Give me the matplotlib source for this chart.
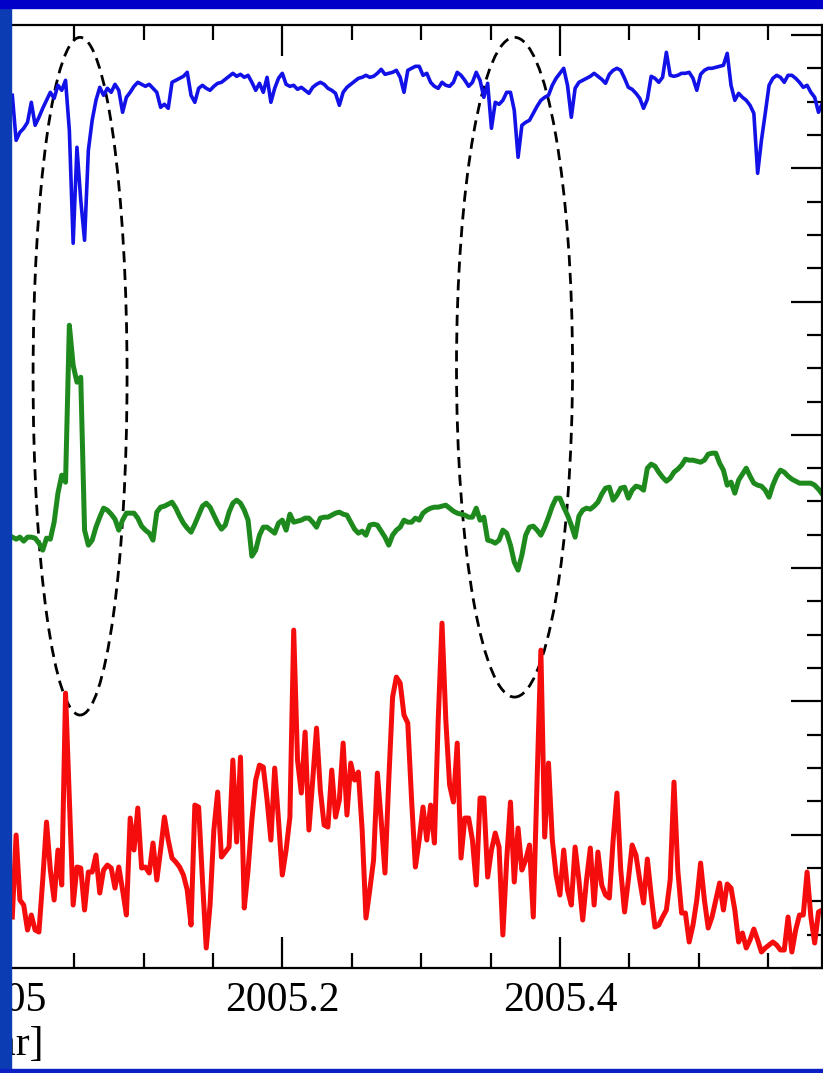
import numpy as np
import matplotlib
matplotlib.use("Agg")
import matplotlib.pyplot as plt
from matplotlib.patches import Ellipse, Rectangle
from matplotlib.ticker import MultipleLocator, FuncFormatter

plt.rcParams['font.family'] = ['Liberation Serif', 'DejaVu Serif']

# daily samples, day 2 .. day 215 of 2005
days = np.arange(2, 216)

blue = [261.9, 248.4, 250.8, 252.0, 253.8, 259.8, 252.9, 255.3, 258.0, 260.4,
        262.8, 261.0, 264.9, 263.4, 266.4, 251.4, 217.5, 246.3, 230.4, 218.4,
        245.4, 254.4, 260.4, 264.3, 261.9, 264.0, 262.8, 265.2, 263.4, 256.8,
        261.3, 262.8, 264.6, 265.8, 265.2, 264.6, 265.2, 264.0, 262.8, 258.3,
        259.2, 258.0, 265.8, 266.4, 267.0, 267.6, 268.8, 261.9, 259.8, 264.0,
        264.9, 264.0, 263.4, 264.6, 265.5, 265.8, 266.7, 267.6, 268.5, 267.6,
        268.2, 267.3, 267.9, 265.8, 263.4, 265.5, 262.8, 267.3, 259.8, 264.0,
        267.0, 268.5, 265.2, 264.6, 264.9, 263.7, 264.3, 263.4, 262.5, 264.3,
        265.2, 265.8, 265.2, 264.0, 263.4, 262.5, 258.9, 262.8, 264.3, 265.2,
        266.1, 267.0, 267.3, 267.9, 267.3, 267.6, 268.5, 269.7, 268.2, 268.5,
        268.8, 269.4, 267.3, 262.8, 269.4, 270.0, 270.6, 270.6, 267.9, 268.5,
        265.8, 264.6, 264.0, 265.8, 264.9, 264.6, 265.8, 268.8, 267.9, 266.4,
        264.6, 265.8, 268.8, 266.4, 261.3, 265.5, 252.0, 259.8, 259.2, 260.4,
        262.8, 262.8, 257.4, 243.3, 252.9, 253.8, 254.4, 256.5, 258.6, 260.4,
        261.3, 261.9, 264.9, 267.0, 268.5, 270.0, 264.9, 255.3, 264.0, 265.8,
        266.4, 267.0, 267.6, 268.5, 267.6, 266.7, 265.5, 268.2, 269.4, 270.0,
        269.4, 267.0, 264.3, 263.7, 262.5, 261.0, 258.0, 260.7, 267.6, 267.0,
        265.8, 267.3, 274.8, 267.9, 267.6, 267.9, 268.5, 268.5, 268.8, 267.0,
        263.4, 268.2, 269.4, 270.0, 270.0, 270.3, 270.6, 270.9, 274.5, 264.9,
        260.4, 262.5, 261.3, 260.4, 258.9, 256.5, 238.5, 248.4, 256.5, 264.9,
        267.0, 267.9, 267.3, 265.8, 267.9, 267.9, 267.0, 265.8, 264.3, 264.9,
        262.8, 261.3, 256.8, 259.5]

green = [129.3, 128.7, 129.3, 128.1, 129.3, 129.3, 129.0, 127.5, 125.4, 129.0,
         128.7, 133.8, 142.5, 147.9, 145.8, 192.9, 180.9, 175.8, 177.3, 131.4,
         126.9, 128.4, 132.3, 135.3, 138.0, 137.4, 136.2, 134.7, 131.4, 134.4,
         136.5, 136.5, 136.5, 135.0, 132.6, 131.4, 130.5, 128.4, 136.8, 138.3,
         138.6, 139.2, 139.8, 138.0, 135.6, 133.5, 132.0, 130.8, 133.2, 135.9,
         138.6, 139.5, 138.3, 135.9, 133.5, 131.7, 132.9, 136.8, 139.5, 140.4,
         139.5, 137.4, 134.4, 123.6, 125.4, 129.9, 132.3, 132.3, 131.4, 130.5,
         133.5, 134.4, 131.4, 136.2, 133.8, 134.1, 134.4, 135.0, 135.0, 133.8,
         132.3, 135.0, 135.3, 135.3, 135.9, 136.5, 136.8, 136.2, 135.9, 133.8,
         131.7, 130.5, 131.1, 129.9, 132.9, 133.2, 132.9, 131.1, 129.3, 126.9,
         129.9, 131.4, 132.3, 134.4, 133.8, 133.8, 135.0, 134.4, 136.5, 137.4,
         138.0, 138.3, 138.3, 138.6, 138.9, 138.0, 137.1, 136.5, 136.2, 135.9,
         135.3, 135.3, 138.0, 134.4, 135.3, 128.4, 128.1, 127.5, 128.4, 131.4,
         130.5, 126.9, 121.8, 119.4, 123.9, 129.9, 132.3, 132.6, 131.4, 129.9,
         132.3, 135.3, 138.6, 141.0, 141.0, 138.3, 135.9, 132.9, 129.3, 135.6,
         137.4, 138.0, 137.7, 138.6, 139.8, 142.2, 144.0, 144.3, 140.4, 141.9,
         144.0, 144.3, 141.0, 143.4, 144.6, 144.3, 143.4, 150.0, 151.2, 150.6,
         148.8, 147.3, 146.1, 147.0, 148.8, 149.7, 150.9, 152.7, 152.4, 152.4,
         152.1, 151.8, 152.4, 154.2, 154.5, 154.5, 151.5, 149.4, 144.9, 145.8,
         142.5, 146.4, 148.2, 150.0, 147.6, 145.5, 144.9, 144.6, 143.4, 141.3,
         144.9, 147.6, 149.4, 148.8, 147.6, 146.7, 146.1, 145.5, 145.5, 145.5,
         145.5, 144.9, 143.7, 142.2]

red = [15.3, 39.9, 20.4, 18.9, 11.4, 15.9, 11.4, 10.8, 26.4, 43.8,
       29.4, 20.4, 35.4, 24.9, 82.5, 50.4, 18.9, 30.3, 30.0, 17.4,
       28.8, 28.8, 33.9, 22.5, 29.4, 30.9, 30.0, 24.0, 30.3, 23.4,
       15.9, 45.0, 35.4, 48.0, 30.0, 30.3, 28.5, 37.5, 26.4, 35.4,
       45.3, 38.4, 33.0, 31.8, 30.3, 27.9, 23.4, 12.9, 48.9, 48.3,
       26.4, 6.0, 18.9, 41.4, 52.8, 33.3, 34.8, 36.3, 62.4, 37.8,
       63.3, 18.0, 29.4, 44.4, 56.4, 60.9, 60.3, 50.4, 38.4, 60.0,
       44.4, 27.9, 35.4, 45.3, 101.4, 62.4, 52.5, 70.8, 41.4, 56.4,
       72.0, 53.4, 42.9, 42.3, 59.4, 45.3, 50.4, 67.5, 45.9, 61.5,
       56.4, 58.8, 41.4, 15.0, 23.4, 32.4, 58.5, 44.4, 28.5, 56.4,
       81.3, 87.3, 85.5, 75.9, 73.5, 50.4, 30.3, 38.4, 48.3, 38.4,
       48.9, 37.5, 74.4, 103.5, 74.4, 54.9, 49.8, 67.5, 33.0, 45.0,
       45.0, 38.4, 24.9, 51.0, 51.0, 27.3, 35.4, 40.5, 36.3, 9.9,
       32.4, 49.8, 25.8, 42.0, 29.4, 32.4, 36.9, 15.3, 56.4, 95.4,
       39.3, 61.5, 38.4, 27.9, 21.9, 35.4, 23.4, 18.9, 36.3, 26.4,
       14.4, 26.4, 36.0, 18.9, 34.8, 24.9, 21.9, 21.0, 38.4, 52.5,
       29.4, 16.8, 26.4, 36.9, 33.9, 26.4, 19.5, 32.7, 21.9, 12.3,
       12.9, 15.3, 17.4, 26.4, 55.8, 29.4, 16.5, 16.5, 7.8, 12.9,
       20.4, 31.5, 20.4, 12.0, 15.3, 20.4, 25.5, 17.4, 25.2, 24.0,
       17.4, 7.8, 10.5, 6.0, 8.4, 11.7, 8.4, 4.8, 6.0, 6.9,
       7.8, 6.9, 5.4, 5.4, 15.3, 4.8, 11.4, 15.9, 15.9, 28.8,
       15.3, 7.5, 16.8, 17.4]

# dashed ellipses marking the events: (centre year, centre value, width yr, height)
events = [(2005.0543, 177.6, 0.0677, 203.4),
          (2005.3673, 180.3, 0.0836, 198.0)]

years = 2005 + days / 365.0

W, H = 823, 1073
fig = plt.figure(figsize=(W / 100, H / 100), dpi=100)
fig.patch.set_facecolor('white')

# axes runs past the left edge of the picture (cropped slide)
ax_left, ax_right, ax_bot, ax_top = -40, 822, 105, 1048
ax = fig.add_axes([ax_left / W, ax_bot / H, (ax_right - ax_left) / W, (ax_top - ax_bot) / H])

ax.plot(years, red, color='#f50d0d', lw=3.6)
ax.plot(years, green, color='#1e8a1e', lw=3.6)
ax.plot(years, blue, color='#1212e8', lw=2.6)

for cx, cy, w, h in events:
    ax.add_patch(Ellipse((cx, cy), w, h, fill=False, edgecolor='black',
                         lw=2.0, linestyle=(0, (4, 2.4))))

ax.set_xlim(2005 - 44.7 / 1388, 2005 + 817.3 / 1388)
ax.set_ylim(0, 283)

ax.xaxis.set_major_locator(MultipleLocator(0.2))
ax.xaxis.set_minor_locator(MultipleLocator(0.05))
ax.xaxis.set_major_formatter(FuncFormatter(lambda v, p: '%g' % round(v, 3)))
ax.yaxis.set_major_locator(MultipleLocator(40))
ax.yaxis.set_minor_locator(MultipleLocator(10))

ax.tick_params(which='both', direction='in', top=True, right=True, width=1.6,
               labelleft=False, labelsize=30, pad=10)
ax.tick_params(which='major', length=22)
ax.tick_params(which='minor', length=11)
for s in ax.spines.values():
    s.set_linewidth(1.6)

fig.text(44 / W, 18 / H, '[year]', ha='right', va='baseline', fontsize=30)

# slide frame around the cropped picture
fig.add_artist(Rectangle((0, 0), 11 / W, 1, transform=fig.transFigure,
                         color='#0c3cb4', zorder=20))
fig.add_artist(Rectangle((0, 1065 / H), 1, 8 / H, transform=fig.transFigure,
                         color='#0000c8', zorder=20))
fig.add_artist(Rectangle((0, 0), 1, 4 / H, transform=fig.transFigure,
                         color='#0a20c4', zorder=20))

fig.savefig('out.png', dpi=100, facecolor=fig.get_facecolor())
